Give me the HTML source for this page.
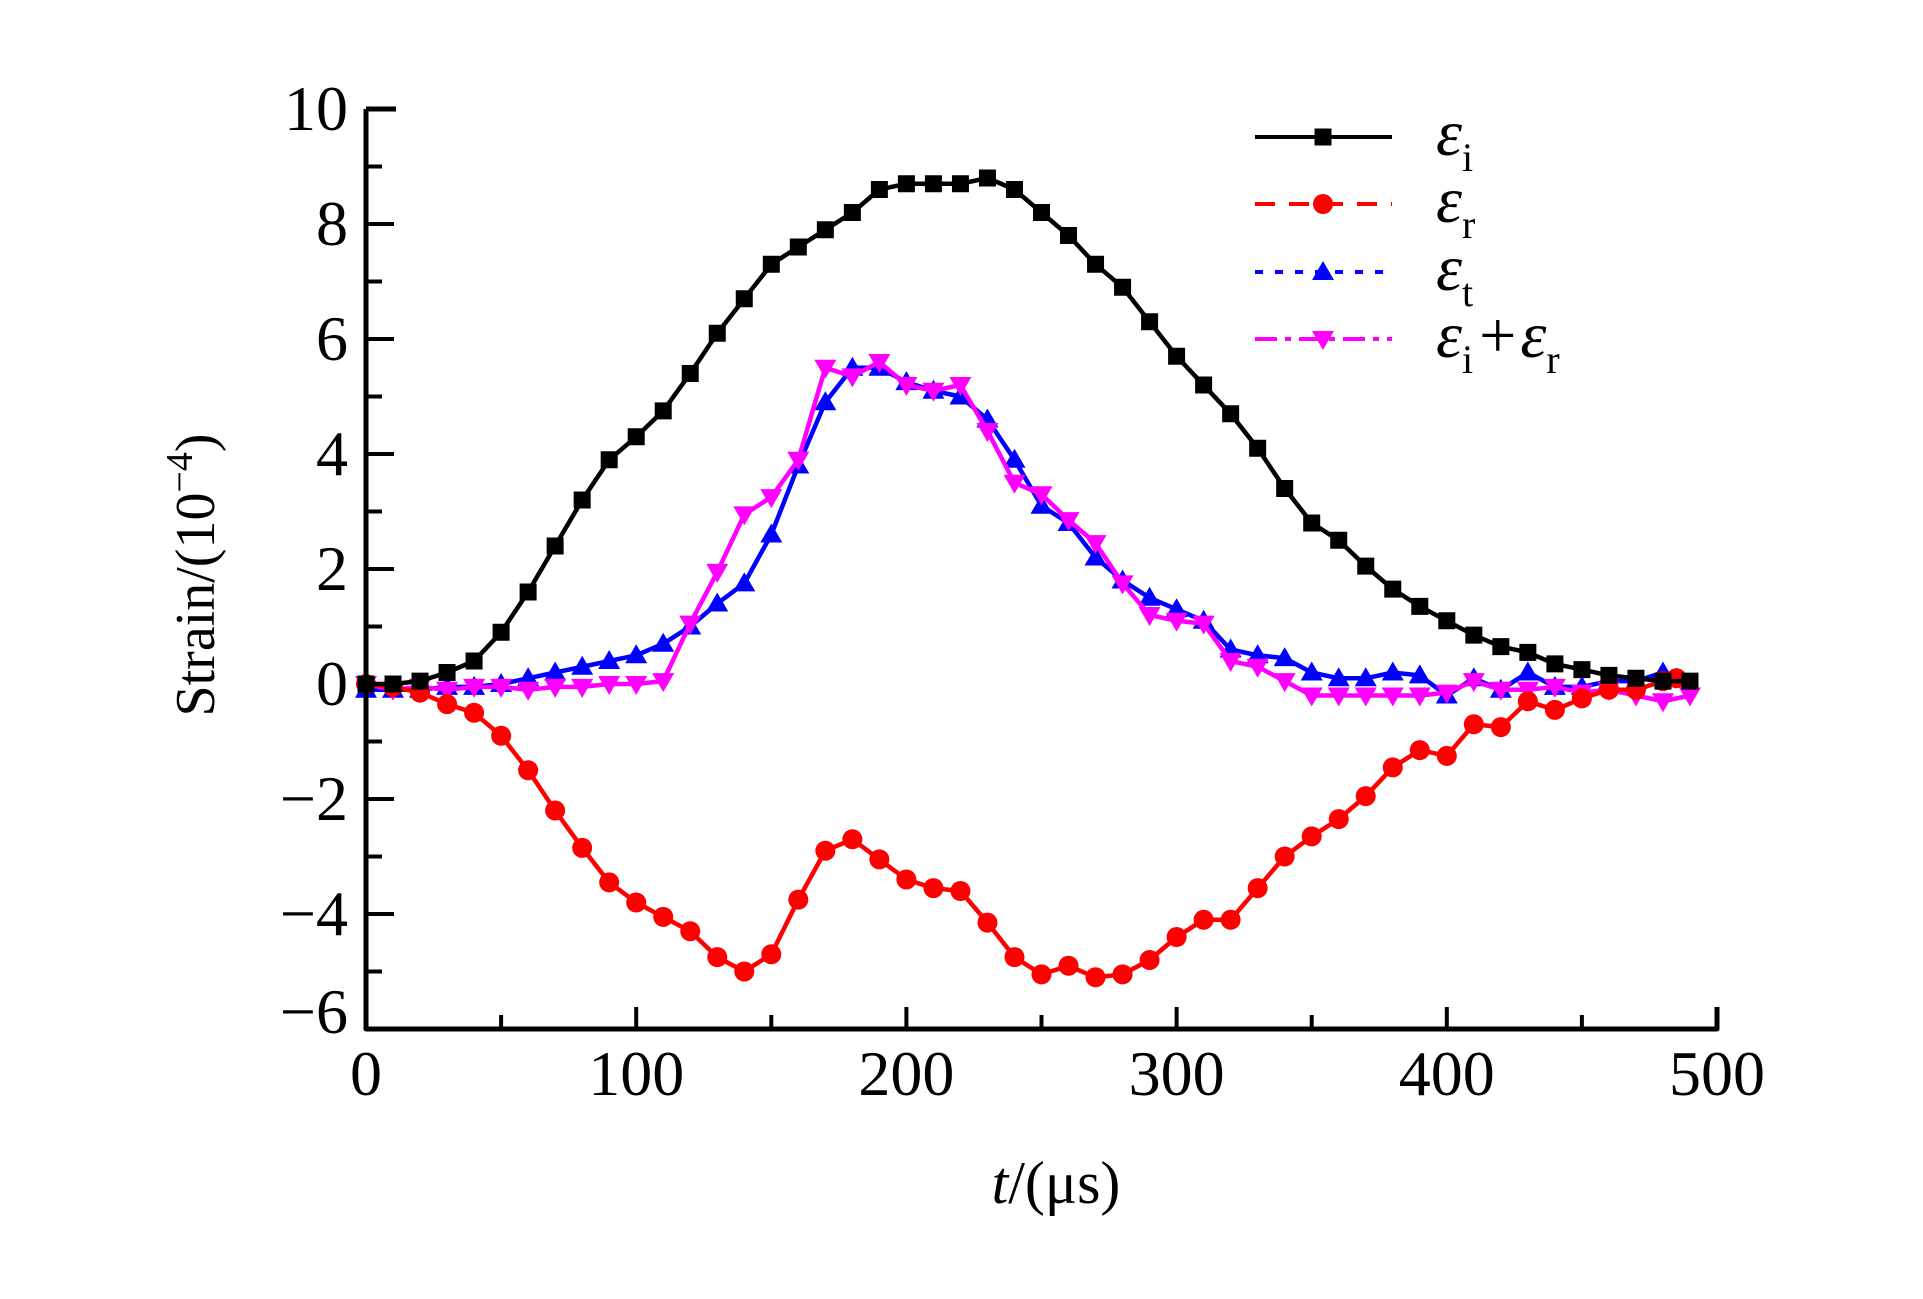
<!DOCTYPE html>
<html><head><meta charset="utf-8"><style>
html,body{margin:0;padding:0;background:#fff;}
svg{display:block;font-family:"Liberation Serif",serif;}
</style></head><body>
<svg id="chart" width="1923" height="1299" viewBox="0 0 1923 1299" xmlns="http://www.w3.org/2000/svg">
<g id="marks"></g>
<g id="axes"></g>
<g id="legend"></g>
<text transform="translate(214,575) rotate(-90)" text-anchor="middle" font-size="56">Strain/(10<tspan font-size="38" dy="-22">−4</tspan><tspan dy="22">)</tspan></text>
<text x="1056" y="1203" text-anchor="middle" font-size="60"><tspan font-style="italic">t</tspan>/(μs)</text>
</svg>
<script>
const xTicks=[0,100,200,300,400,500];
const yTicks=[10,8,6,4,2,0,-2,-4,-6];
const tI=[0,10,20,30,40,50,60,70,80,90,100,110,120,130,140,150,160,170,180,190,200,210,220,230,240,250,260,270,280,290,300,310,320,330,340,350,360,370,380,390,400,410,420,430,440,450,460,470,480,490];
const epsI=[0,0,0.05,0.2,0.4,0.9,1.6,2.4,3.2,3.9,4.3,4.75,5.4,6.1,6.7,7.3,7.6,7.9,8.2,8.6,8.7,8.7,8.7,8.8,8.6,8.2,7.8,7.3,6.9,6.3,5.7,5.2,4.7,4.1,3.4,2.8,2.5,2.05,1.65,1.35,1.1,0.85,0.65,0.55,0.35,0.25,0.15,0.1,0.05,0.05];
const tR=[0,10,20,30,40,50,60,70,80,90,100,110,120,130,140,150,160,170,180,190,200,210,220,230,240,250,260,270,280,290,300,310,320,330,340,350,360,370,380,390,400,410,420,430,440,450,460,470,480,485];
const epsR=[0,-0.05,-0.15,-0.35,-0.5,-0.9,-1.5,-2.2,-2.85,-3.45,-3.8,-4.05,-4.3,-4.75,-5.0,-4.7,-3.75,-2.9,-2.7,-3.05,-3.4,-3.55,-3.6,-4.15,-4.75,-5.05,-4.9,-5.1,-5.05,-4.8,-4.4,-4.1,-4.1,-3.55,-3.0,-2.65,-2.35,-1.95,-1.45,-1.15,-1.25,-0.7,-0.75,-0.3,-0.45,-0.25,-0.1,-0.1,0.05,0.1];
const tT=tR;
const epsT=[-0.1,-0.1,-0.1,-0.05,-0.05,0,0.1,0.2,0.3,0.4,0.5,0.7,1.0,1.4,1.75,2.6,3.8,4.9,5.5,5.5,5.25,5.1,5.0,4.6,3.9,3.1,2.8,2.2,1.8,1.5,1.3,1.1,0.6,0.5,0.45,0.2,0.1,0.1,0.2,0.15,-0.2,0.1,-0.1,0.2,-0.05,-0.05,0.05,0.05,0.2,0.1];
const tS=tI;
const epsS=[0,-0.1,-0.05,-0.1,-0.05,-0.05,-0.1,-0.05,-0.05,0,0,0.05,1.05,1.95,2.95,3.25,3.9,5.5,5.35,5.6,5.2,5.1,5.2,4.4,3.5,3.3,2.85,2.45,1.75,1.2,1.1,1.05,0.4,0.3,0.05,-0.2,-0.2,-0.2,-0.2,-0.2,-0.15,0.05,-0.1,-0.1,-0.05,-0.15,-0.1,-0.2,-0.3,-0.2];

const NS="http://www.w3.org/2000/svg";
const X0=366,X1=1717,Y10=109,YM6=1029;
function xs(v){return X0+(v-0)/(500-0)*(X1-X0);}
function ys(v){return Y10+(10-v)/16*(YM6-Y10);}
function mk(tag,attrs,parent){const e=document.createElementNS(NS,tag);for(const k in attrs)e.setAttribute(k,attrs[k]);parent.appendChild(e);return e;}
function marker(type,x,y,color,g){
  let e;
  if(type==='sq')e=mk('rect',{x:x-8.5,y:y-8.5,width:17,height:17,fill:color},g);
  else if(type==='ci')e=mk('circle',{cx:x,cy:y,r:10,fill:color},g);
  else if(type==='up')e=mk('polygon',{points:`${x},${y-11} ${x-11},${y+8} ${x+11},${y+8}`,fill:color},g);
  else e=mk('polygon',{points:`${x},${y+11} ${x-11},${y-8} ${x+11},${y-8}`,fill:color},g);
  return e;
}
const marks=document.getElementById('marks');
const series=[
  {name:'series-eps-t',t:tT,v:epsT,c:'#0000ff',m:'up'},
  {name:'series-eps-i-plus-r',t:tS,v:epsS,c:'#ff00ff',m:'dn'},
  {name:'series-eps-r',t:tR,v:epsR,c:'#ff0000',m:'ci'},
  {name:'series-eps-i',t:tI,v:epsI,c:'#000000',m:'sq'}
];
series.forEach(s=>{
  const g=mk('g',{},marks);
  
  
  const pts=s.t.map((t,i)=>xs(t).toFixed(1)+','+ys(s.v[i]).toFixed(1)).join(' ');
  const pl=mk('polyline',{points:pts,fill:'none',stroke:s.c,'stroke-width':4.5,'stroke-linejoin':'round'},g);
  
  
  s.t.forEach((t,i)=>{
    const e=marker(s.m,xs(t),ys(s.v[i]),s.c,g);
    
    
  });
});
const axes=document.getElementById('axes');
const ax=mk('path',{d:`M${X0},${Y10} V${YM6} H${X1} V${YM6-22}`,fill:'none',stroke:'#000','stroke-width':5,'stroke-linejoin':'round'},axes);


mk('line',{x1:X0,y1:Y10,x2:X0+30,y2:Y10,stroke:'#000','stroke-width':5},axes);
for(let v=-6;v<=10;v+=1){
  const len=(v%2===0)?28:16;
  mk('line',{x1:X0,y1:ys(v),x2:X0+len,y2:ys(v),stroke:'#000','stroke-width':4},axes);
}
for(let v=0;v<=500;v+=50){
  const len=(v%100===0)?22:14;
  mk('line',{x1:xs(v),y1:YM6,x2:xs(v),y2:YM6-len,stroke:'#000','stroke-width':4},axes);
}
yTicks.forEach(v=>{
  const t=mk('text',{x:X0-18,y:ys(v)+(v===-6?4:21),'text-anchor':'end','font-size':64},axes);
  t.textContent=v<0?'−'+Math.abs(v):String(v);
  
  
});
xTicks.forEach(v=>{
  const t=mk('text',{x:xs(v),y:1095,'text-anchor':'middle','font-size':64},axes);
  t.textContent=String(v);
  
  
});
const lg=document.getElementById('legend');
const leg=[
  {y:137,c:'#000',m:'sq',dash:'',lab:'i',name:'legend-eps-i'},
  {y:204,c:'#ff0000',m:'ci',dash:'20,14',lab:'r',name:'legend-eps-r'},
  {y:272,c:'#0000ff',m:'up',dash:'8,12',lab:'t',name:'legend-eps-t'},
  {y:339,c:'#ff00ff',m:'dn',dash:'22,8,6,8',lab:'sum',name:'legend-eps-i-plus-r'}
];
leg.forEach(l=>{
  const g=mk('g',{},lg);
  
  
  mk('line',{x1:1255,y1:l.y,x2:1392,y2:l.y,stroke:l.c,'stroke-width':4,'stroke-dasharray':l.dash},g);
  marker(l.m,1323,l.y,l.c,g);
  const t=mk('text',{x:1436,y:l.y+18,'font-size':66,'font-style':'italic'},g);
  if(l.lab==='sum'){
    t.innerHTML='ε<tspan font-size="40" font-style="normal" dy="16">i</tspan><tspan font-style="normal" dy="-16" dx="6">+</tspan><tspan dx="4">ε</tspan><tspan font-size="40" font-style="normal" dy="16">r</tspan>';
  } else {
    t.innerHTML='ε<tspan font-size="40" font-style="normal" dy="16">'+l.lab+'</tspan>';
  }
});
</script>
</body></html>
